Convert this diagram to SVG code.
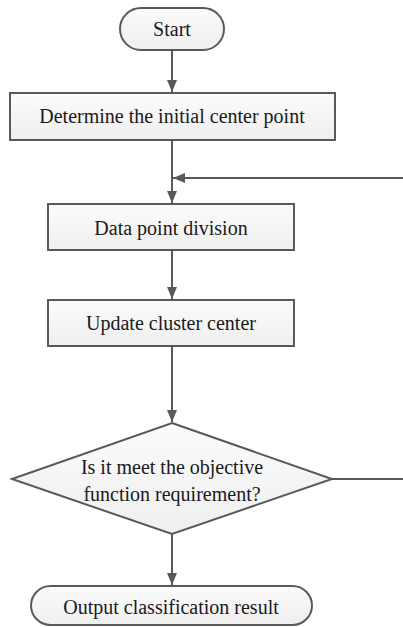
<svg xmlns="http://www.w3.org/2000/svg" width="403" height="627" viewBox="0 0 403 627">
<style>
.n{fill:url(#g);stroke:#595959;stroke-width:2}
.t{font-family:'Liberation Serif','Times New Roman',serif;font-size:20px;fill:#1a1a1a;text-anchor:middle}
.c{fill:none;stroke:#595959;stroke-width:2}
</style>
<defs>
<linearGradient id="g" x1="0" y1="0" x2="0" y2="1"><stop offset="0" stop-color="#fbfbfb"/><stop offset="1" stop-color="#efefef"/></linearGradient>
<marker id="a" viewBox="0 0 12 10" refX="12" refY="5" markerWidth="12" markerHeight="10" orient="auto" markerUnits="userSpaceOnUse"><path d="M0,0 L12,5 L0,10 z" fill="#595959"/></marker>
</defs>
<rect width="403" height="627" fill="#fff"/>
<g id="connectors">
<path class="c" d="M172,50 V92" marker-end="url(#a)"/>
<path class="c" d="M172,140 V203" marker-end="url(#a)"/>
<path class="c" d="M172,250 V299" marker-end="url(#a)"/>
<path class="c" d="M172,346 V422" marker-end="url(#a)"/>
<path class="c" d="M172,534 V585" marker-end="url(#a)"/>
<path class="c" d="M332,479 H412 V178 H173" marker-end="url(#a)"/>
</g>
<g id="start"><rect class="n" x="120" y="8" width="104" height="42" rx="21"/><text class="t" x="172" y="36">Start</text></g>
<g id="init"><rect class="n" x="10" y="93" width="325" height="47"/><text class="t" x="172" y="123">Determine the initial center point</text></g>
<g id="divide"><rect class="n" x="48" y="204" width="246" height="46"/><text class="t" x="171" y="235">Data point division</text></g>
<g id="update"><rect class="n" x="48" y="300" width="246" height="46"/><text class="t" x="171" y="330">Update cluster center</text></g>
<g id="decision"><polygon class="n" points="172,423 332,479 172,534 12,479"/><text class="t" x="172" y="474">Is it meet the objective</text><text class="t" x="172" y="501">function requirement?</text></g>
<g id="output"><rect class="n" x="31" y="586" width="281" height="39" rx="19.5"/><text class="t" x="171" y="614">Output classification result</text></g>
</svg>
